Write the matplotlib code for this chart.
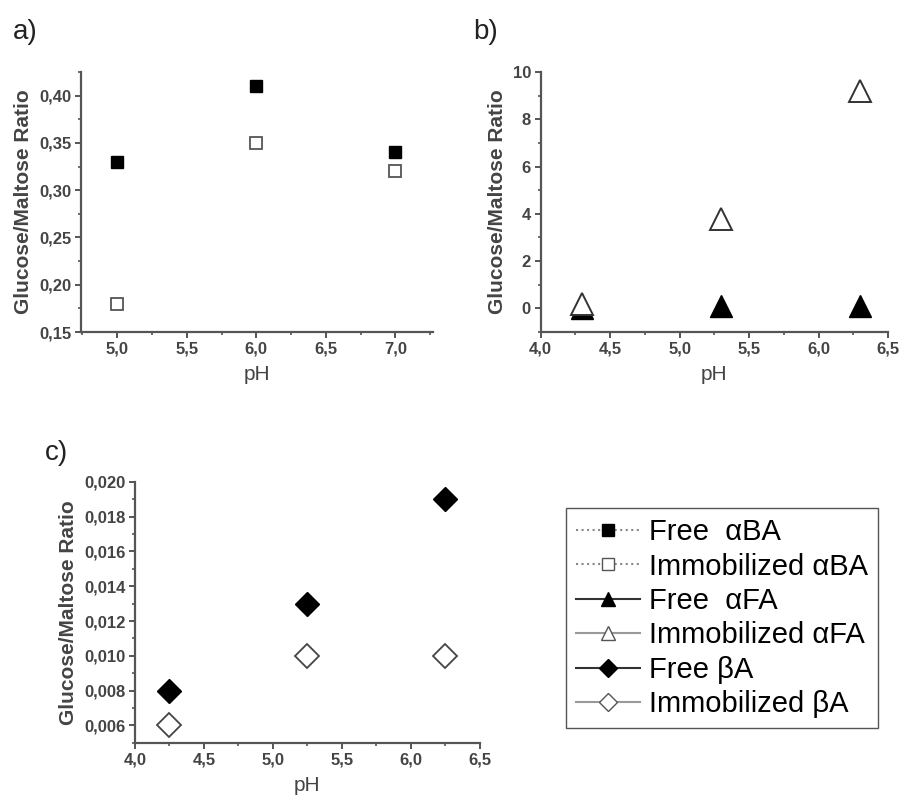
import matplotlib
matplotlib.use("Agg")
import matplotlib.pyplot as plt
from matplotlib.lines import Line2D
from matplotlib.ticker import FuncFormatter, MultipleLocator

plt.rcParams['font.family'] = ['Liberation Sans', 'DejaVu Sans']

# a) alpha BA
ph_a = [5.0, 6.0, 7.0]
free_aba = [0.33, 0.41, 0.34]
imm_aba = [0.18, 0.35, 0.32]

# b) alpha FA
ph_b = [4.3, 5.3, 6.3]
free_afa = [0.0, 0.1, 0.1]
imm_afa = [0.2, 3.8, 9.2]

# c) beta A
ph_c = [4.25, 5.25, 6.25]
free_ba = [0.008, 0.013, 0.019]
imm_ba = [0.006, 0.010, 0.010]

labels = ["Free  \u03b1BA", "Immobilized \u03b1BA", "Free  \u03b1FA",
          "Immobilized \u03b1FA", "Free \u03b2A", "Immobilized \u03b2A"]

axcol = "#555555"
txtcol = "#444444"


def comma_fmt(ndec):
    return FuncFormatter(lambda v, p: f"{v:.{ndec}f}".replace(".", ","))


def style(ax, xdec, ydec, xmaj, xmin, ymaj, ymin):
    for s in ["top", "right"]:
        ax.spines[s].set_visible(False)
    for s in ["left", "bottom"]:
        ax.spines[s].set_color(axcol)
        ax.spines[s].set_linewidth(1.6)
    ax.xaxis.set_major_locator(MultipleLocator(xmaj))
    ax.xaxis.set_minor_locator(MultipleLocator(xmin))
    ax.yaxis.set_major_locator(MultipleLocator(ymaj))
    ax.yaxis.set_minor_locator(MultipleLocator(ymin))
    ax.xaxis.set_major_formatter(comma_fmt(xdec))
    ax.yaxis.set_major_formatter(comma_fmt(ydec))
    ax.tick_params(which="major", direction="out", length=4, width=1.4,
                   color=axcol, labelsize=12, labelcolor=txtcol, pad=3)
    ax.tick_params(which="minor", direction="out", length=2, width=1.2, color=axcol)
    for t in ax.get_xticklabels() + ax.get_yticklabels():
        t.set_fontweight("bold")
    ax.set_xlabel("pH", fontsize=15, color=txtcol, labelpad=6)
    ax.set_ylabel("Glucose/Maltose Ratio", fontsize=15, color=txtcol,
                  fontweight="bold", labelpad=4)


fig = plt.figure(figsize=(9.03, 8.01), dpi=100)

ax_a = fig.add_axes([0.0897, 0.5855, 0.3898, 0.3246])
ax_a.plot(ph_a, free_aba, ls="none", marker="s", ms=8.5, mfc="black", mec="black")
ax_a.plot(ph_a, imm_aba, ls="none", marker="s", ms=8.5, mfc="white", mec="#555555", mew=1.3)
ax_a.set_xlim(4.74, 7.27)
ax_a.set_ylim(0.15, 0.425)
style(ax_a, 1, 2, 0.5, 0.25, 0.05, 0.025)

ax_b = fig.add_axes([0.5988, 0.5855, 0.3846, 0.3246])
ax_b.plot(ph_b, free_afa, ls="none", marker="^", ms=16, mfc="black", mec="black")
ax_b.plot(ph_b, imm_afa, ls="none", marker="^", ms=16, mfc="white", mec="#333333", mew=1.4)
ax_b.set_xlim(4.0, 6.5)
ax_b.set_ylim(-1, 10)
style(ax_b, 1, 0, 0.5, 0.25, 2, 1)

ax_c = fig.add_axes([0.1495, 0.0728, 0.382, 0.3255])
ax_c.plot(ph_c, free_ba, ls="none", marker="D", ms=12.5, mfc="black", mec="black")
ax_c.plot(ph_c, imm_ba, ls="none", marker="D", ms=12.5, mfc="white", mec="#444444", mew=1.3)
ax_c.set_xlim(4.0, 6.5)
ax_c.set_ylim(0.005, 0.020)
style(ax_c, 1, 3, 0.5, 0.25, 0.002, 0.001)

fig.text(0.014, 0.96, "a)", fontsize=20, color="#222222", va="center")
fig.text(0.524, 0.96, "b)", fontsize=20, color="#222222", va="center")
fig.text(0.05, 0.435, "c)", fontsize=20, color="#222222", va="center")

handles = [
    Line2D([], [], ls=":", color="#888888", marker="s", ms=9, mfc="black", mec="black"),
    Line2D([], [], ls=":", color="#888888", marker="s", ms=9, mfc="white", mec="#555555"),
    Line2D([], [], ls="-", color="#333333", marker="^", ms=10, mfc="black", mec="black"),
    Line2D([], [], ls="-", color="#999999", marker="^", ms=10, mfc="white", mec="#555555"),
    Line2D([], [], ls="-", color="#333333", marker="D", ms=9, mfc="black", mec="black"),
    Line2D([], [], ls="-", color="#999999", marker="D", ms=9, mfc="white", mec="#555555"),
]
fig.legend(handles, labels, loc="upper left", bbox_to_anchor=(0.6268, 0.3658),
           borderaxespad=0, fontsize=21, frameon=True, fancybox=False,
           edgecolor="#555555", framealpha=1, handlelength=2.2,
           labelspacing=0.22, handletextpad=0.3, borderpad=0.35)

fig.savefig("out.png", dpi=100)
